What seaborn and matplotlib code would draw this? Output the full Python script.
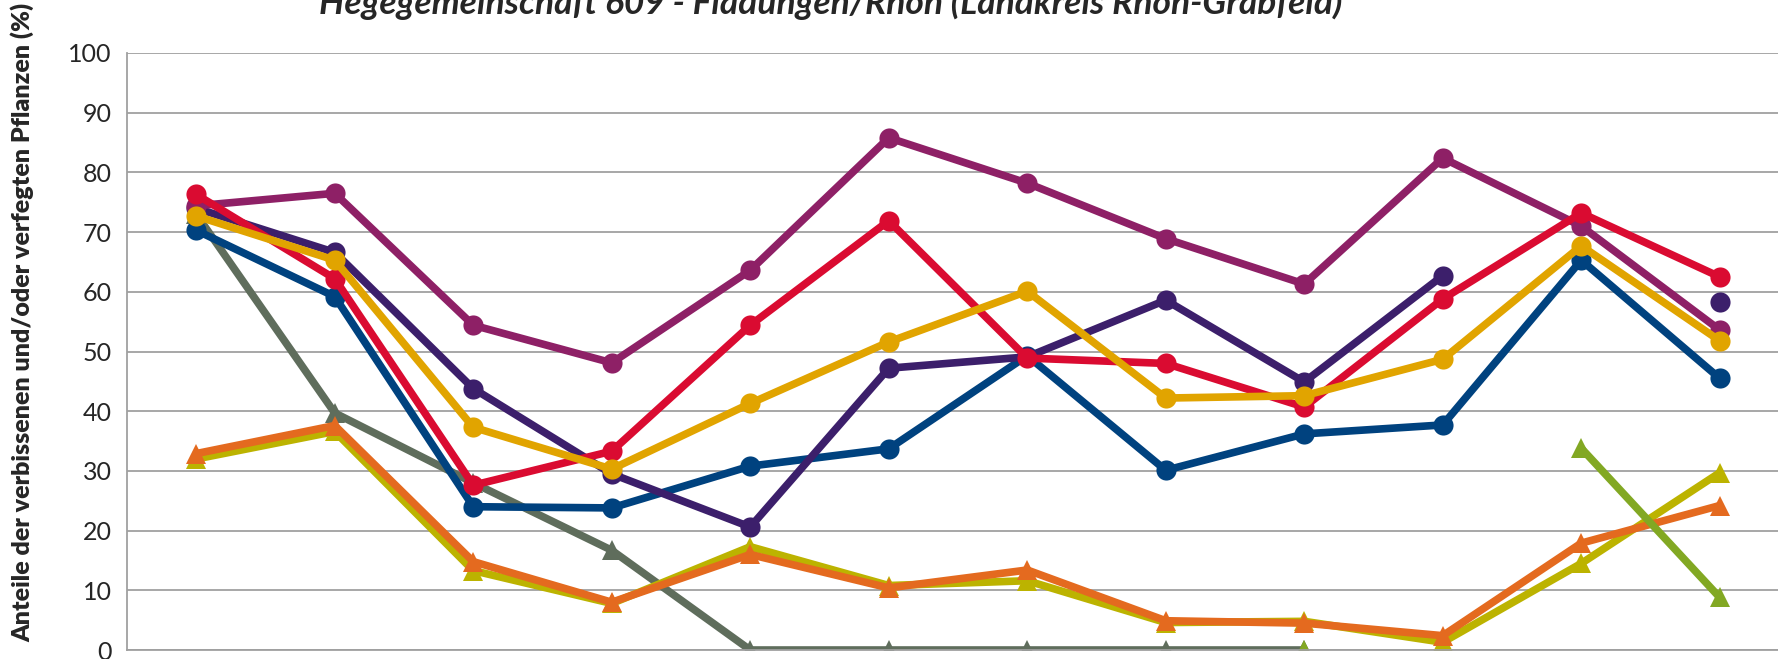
import numpy as np
import pandas as pd
import seaborn as sns
import matplotlib.pyplot as plt

# survey years (the x axis labels are cut off in the reference, so they are not drawn)
years = ['1991', '1994', '1997', '2000', '2003', '2006', '2009', '2012', '2015', '2018', '2021', '2024']
nan = np.nan

# series values (%)
fichte = [70.3, 59.2, 24.0, 23.8, 30.8, 33.7, 49.3, 30.1, 36.2, 37.7, 65.3, 45.5]
tanne = [74.0, 66.6, 43.8, 29.5, 20.6, 47.2, 49.1, 58.6, 44.9, 62.7, nan, 58.3]
buche = [74.4, 76.5, 54.4, 48.1, 63.6, 85.8, 78.2, 68.9, 61.3, 82.4, 71.0, 53.6]
eiche = [76.3, 62.2, 27.6, 33.3, 54.4, 71.9, 48.9, 48.0, 40.7, 58.8, 73.2, 62.5]
edellaub = [72.7, 65.3, 37.3, 30.3, 41.3, 51.6, 60.1, 42.2, 42.6, 48.7, 67.7, 51.8]
kiefer_fege = [73.0, 39.7, 28.0, 16.7, 0.0, 0.0, 0.0, 0.0, 0.0, nan, nan, nan]
laub_fege = [32.0, 36.6, 13.3, 7.8, 17.3, 10.8, 11.6, 4.6, 4.8, 1.3, 14.5, 29.7]
gesamt_fege = [32.9, 37.6, 14.8, 8.0, 16.0, 10.4, 13.4, 4.9, 4.5, 2.4, 17.9, 24.2]
tanne_fege = [nan, nan, nan, nan, nan, nan, nan, nan, 0.0, nan, 33.8, 8.8]

series = {
    'Kiefer (Fegen)': kiefer_fege,
    'Laubholz (Fegen)': laub_fege,
    'Gesamt (Fegen)': gesamt_fege,
    'Tanne (Fegen)': tanne_fege,
    'Fichte': fichte,
    'Tanne': tanne,
    'Buche': buche,
    'Eiche': eiche,
    'Edellaubholz': edellaub,
}
colors = ['#5f6d5c', '#bcb300', '#e46a1f', '#82a823',
          '#00427f', '#3c1f6b', '#8e2066', '#da0b31', '#e1a400']
marks = ['^', '^', '^', '^', 'o', 'o', 'o', 'o', 'o']

# long table, with a new segment after each gap so lines break at missing values
rows = []
for name, vals in series.items():
    seg = 0
    for i, v in enumerate(vals):
        if np.isnan(v):
            seg += 1
            continue
        rows.append({'x': i, 'wert': v, 'reihe': name, 'seg': seg})
df = pd.DataFrame(rows)

sns.set_style('white')
plt.rcParams['font.family'] = ['Lato', 'DejaVu Sans']

fig = plt.figure(figsize=(17.78, 6.59), dpi=100)
ax = fig.add_axes([127 / 1778, 9 / 659, 1662 / 1778, 597 / 659])

sns.lineplot(data=df, x='x', y='wert', hue='reihe', style='reihe', units='seg',
             estimator=None, hue_order=list(series), style_order=list(series),
             palette=colors, markers=marks, dashes=False, linewidth=5.5,
             markersize=14.5, markeredgewidth=0, legend=False, ax=ax)

ax.set_xlim(-0.5, len(years) - 0.5)
ax.set_ylim(0, 100)
ax.set_yticks(range(0, 101, 10))
ax.set_xticks(np.arange(-0.5, len(years), 1.0))
ax.set_xticklabels([])
ax.tick_params(axis='x', length=12, width=1.2, color='#a0a0a0', direction='out')
ax.tick_params(axis='y', length=7, width=1.2, color='#a0a0a0', direction='out',
               labelsize=18, pad=4)
ax.grid(axis='y', color='#a0a0a0', linewidth=1.3)
ax.set_axisbelow(True)
for s in ['top', 'right']:
    ax.spines[s].set_visible(False)
for s in ['left', 'bottom']:
    ax.spines[s].set_color('#a0a0a0')
    ax.spines[s].set_linewidth(1.3)
ax.set_xlabel('')
ax.set_ylabel('')

fig.text(22 / 1778, 0.511, 'Anteile der verbissenen und/oder verfegten Pflanzen (%)',
         rotation=90, ha='center', va='center', fontsize=18, fontweight='heavy')
fig.text(831 / 1778, (659 - 14) / 659, 'Hegegemeinschaft 609 - Fladungen/Rhön (Landkreis Rhön-Grabfeld)',
         ha='center', va='baseline', fontsize=25.5, fontweight='bold', fontstyle='italic')

fig.savefig('out.png', dpi=100)
